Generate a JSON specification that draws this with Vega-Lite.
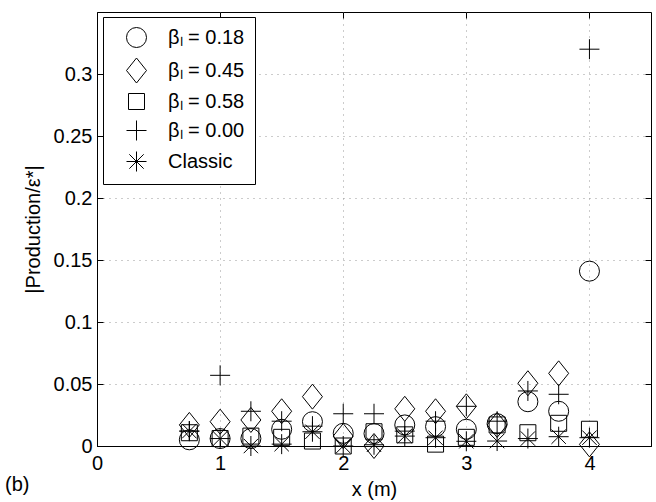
{
  "$schema": "https://vega.github.io/schema/vega-lite/v6.json",
  "width": 554,
  "height": 434,
  "autosize": "none",
  "padding": {"left": 97, "top": 12, "right": 5, "bottom": 56},
  "background": "white",
  "config": {
    "font": "Liberation Sans",
    "view": {"stroke": "black", "strokeWidth": 1},
    "axis": {"labelFont": "Liberation Sans", "titleFont": "Liberation Sans", "labelColor": "black", "titleColor": "black", "domainColor": "black", "tickColor": "black", "titleFontWeight": "normal", "labelFontSize": 20, "titleFontSize": 20}
  },
  "title": {"text": "(b)", "orient": "bottom", "anchor": "start", "frame": "group", "dx": -92, "offset": -24, "fontSize": 20, "fontWeight": "normal", "font": "Liberation Sans", "color": "black"},
  "data": {"values": [
    {"x": 0.75, "v": 0.005, "s": "c018"}, {"x": 1.0, "v": 0.006, "s": "c018"}, {"x": 1.25, "v": 0.006, "s": "c018"}, {"x": 1.5, "v": 0.0135, "s": "c018"}, {"x": 1.75, "v": 0.0196, "s": "c018"}, {"x": 2.0, "v": 0.0102, "s": "c018"}, {"x": 2.25, "v": 0.010, "s": "c018"}, {"x": 2.5, "v": 0.017, "s": "c018"}, {"x": 2.75, "v": 0.0156, "s": "c018"}, {"x": 3.0, "v": 0.0135, "s": "c018"}, {"x": 3.25, "v": 0.018, "s": "c018"}, {"x": 3.5, "v": 0.0357, "s": "c018"}, {"x": 3.75, "v": 0.028, "s": "c018"}, {"x": 4.0, "v": 0.141, "s": "c018"},
    {"x": 0.75, "v": 0.017, "s": "d045"}, {"x": 1.0, "v": 0.0196, "s": "d045"}, {"x": 1.25, "v": 0.021, "s": "d045"}, {"x": 1.5, "v": 0.028, "s": "d045"}, {"x": 1.75, "v": 0.0398, "s": "d045"}, {"x": 2.0, "v": 0.008, "s": "d045"}, {"x": 2.25, "v": 0.0, "s": "d045"}, {"x": 2.5, "v": 0.030, "s": "d045"}, {"x": 2.75, "v": 0.028, "s": "d045"}, {"x": 3.0, "v": 0.032, "s": "d045"}, {"x": 3.25, "v": 0.017, "s": "d045"}, {"x": 3.5, "v": 0.0506, "s": "d045"}, {"x": 3.75, "v": 0.0586, "s": "d045"}, {"x": 4.0, "v": 0.0013, "s": "d045"},
    {"x": 0.75, "v": 0.0107, "s": "s058"}, {"x": 1.0, "v": 0.006, "s": "s058"}, {"x": 1.25, "v": 0.008, "s": "s058"}, {"x": 1.5, "v": 0.007, "s": "s058"}, {"x": 1.75, "v": 0.004, "s": "s058"}, {"x": 2.0, "v": 0.0, "s": "s058"}, {"x": 2.25, "v": 0.0115, "s": "s058"}, {"x": 2.5, "v": 0.009, "s": "s058"}, {"x": 2.75, "v": 0.0015, "s": "s058"}, {"x": 3.0, "v": 0.007, "s": "s058"}, {"x": 3.25, "v": 0.017, "s": "s058"}, {"x": 3.5, "v": 0.0107, "s": "s058"}, {"x": 3.75, "v": 0.0183, "s": "s058"}, {"x": 4.0, "v": 0.0135, "s": "s058"},
    {"x": 0.75, "v": 0.012, "s": "p000"}, {"x": 1.0, "v": 0.057, "s": "p000"}, {"x": 1.25, "v": 0.028, "s": "p000"}, {"x": 1.5, "v": 0.02, "s": "p000"}, {"x": 1.75, "v": 0.016, "s": "p000"}, {"x": 2.0, "v": 0.026, "s": "p000"}, {"x": 2.25, "v": 0.026, "s": "p000"}, {"x": 2.5, "v": 0.012, "s": "p000"}, {"x": 2.75, "v": 0.02, "s": "p000"}, {"x": 3.0, "v": 0.032, "s": "p000"}, {"x": 3.25, "v": 0.02, "s": "p000"}, {"x": 3.5, "v": 0.0444, "s": "p000"}, {"x": 3.75, "v": 0.0417, "s": "p000"}, {"x": 4.0, "v": 0.32, "s": "p000"},
    {"x": 0.75, "v": 0.012, "s": "classic"}, {"x": 1.0, "v": 0.006, "s": "classic"}, {"x": 1.25, "v": 0.0, "s": "classic"}, {"x": 1.5, "v": 0.0015, "s": "classic"}, {"x": 1.75, "v": 0.0115, "s": "classic"}, {"x": 2.0, "v": 0.0, "s": "classic"}, {"x": 2.25, "v": 0.001, "s": "classic"}, {"x": 2.5, "v": 0.008, "s": "classic"}, {"x": 2.75, "v": 0.0067, "s": "classic"}, {"x": 3.0, "v": 0.0038, "s": "classic"}, {"x": 3.25, "v": 0.004, "s": "classic"}, {"x": 3.5, "v": 0.006, "s": "classic"}, {"x": 3.75, "v": 0.0075, "s": "classic"}, {"x": 4.0, "v": 0.0067, "s": "classic"}
  ]},
  "layer": [
    {
      "mark": {"type": "point", "filled": false, "stroke": "black", "strokeWidth": 1, "size": 400, "opacity": 1},
      "encoding": {
        "x": {"field": "x", "type": "quantitative", "scale": {"domain": [0, 4.5], "nice": false, "zero": false},
          "axis": {"orient": "bottom", "values": [0, 1, 2, 3, 4], "format": "~g", "title": "x (m)", "tickSize": -6, "labelPadding": 13, "titlePadding": 6, "grid": true, "gridDash": [1, 5], "gridColor": "#999", "gridOpacity": 1, "labelFlush": false, "labelOverlap": false}},
        "y": {"field": "v", "type": "quantitative", "scale": {"domain": [0, 0.35], "nice": false, "zero": false},
          "axis": {"orient": "left", "values": [0, 0.05, 0.1, 0.15, 0.2, 0.25, 0.3], "format": "~g", "title": "|Production/ε*|", "tickSize": -6, "labelPadding": 11, "minExtent": 44, "maxExtent": 44, "titlePadding": 10, "grid": true, "gridDash": [1, 5], "gridColor": "#999", "gridOpacity": 1, "labelFlush": false, "labelOverlap": false}},
        "shape": {"field": "s", "type": "nominal",
          "scale": {"domain": ["c018", "d045", "s058", "p000", "classic"],
            "range": ["circle", "M0,-1.25L1,0L0,1.25L-1,0Z", "M-0.8,-0.8H0.8V0.8H-0.8Z", "M-1,0H1M0,-1V1", "M-1,0H1M0,-1V1M-0.72,-0.72L0.72,0.72M-0.72,0.72L0.72,-0.72"]},
          "legend": {"title": null, "orient": "none", "legendX": 6, "legendY": 5, "padding": 10, "symbolOffset": 13, "strokeColor": "black", "fillColor": "white", "symbolSize": 400, "symbolStrokeColor": "black", "symbolStrokeWidth": 1, "symbolFillColor": "transparent", "labelFontSize": 20, "labelFont": "Liberation Sans", "labelColor": "black", "labelOffset": 21, "rowPadding": 6, "cornerRadius": 0,
            "labelExpr": "{'c018': 'βₗ = 0.18', 'd045': 'βₗ = 0.45', 's058': 'βₗ = 0.58', 'p000': 'βₗ = 0.00', 'classic': 'Classic'}[datum.value]"}}
      }
    },
    {
      "mark": {"type": "point", "opacity": 0},
      "encoding": {
        "x": {"field": "x", "type": "quantitative", "axis": {"orient": "top", "values": [0, 1, 2, 3, 4], "labels": false, "title": null, "tickSize": -6, "grid": false, "domain": false}},
        "y": {"field": "v", "type": "quantitative", "axis": {"orient": "right", "values": [0, 0.05, 0.1, 0.15, 0.2, 0.25, 0.3], "labels": false, "title": null, "tickSize": -6, "grid": false, "domain": false}}
      }
    }
  ],
  "resolve": {"axis": {"x": "independent", "y": "independent"}}
}
